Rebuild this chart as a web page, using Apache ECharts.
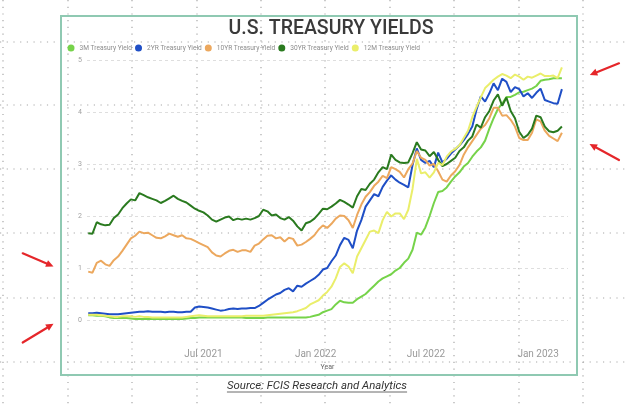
<!DOCTYPE html>
<html>
<head>
<meta charset="utf-8">
<title>U.S. Treasury Yields</title>
<script src="https://cdn.jsdelivr.net/npm/echarts@6/dist/echarts.min.js"></script>
<style>
  html, body { margin: 0; padding: 0; background: #ffffff; }
  #chart { width: 625px; height: 404px; }
</style>
</head>
<body>
<div id="chart"></div>
<script>
// Weekly yield observations (percent), first week 24 Dec 2020, one value per week
const firstWeek = '2020-12-24';

const seriesNames = ['3M Treasury Yield', '2YR Treasury Yield', '10YR Treasury Yield', '30YR Treasury Yield', '12M Treasury Yield'];

const yield3M = [
  0.09,0.09,0.08,0.08,0.07,0.05,0.04,0.04,0.04,0.04,
  0.03,0.02,0.02,0.02,0.02,0.02,0.02,0.02,0.02,0.02,
  0.02,0.02,0.02,0.03,0.04,0.04,0.05,0.05,0.05,0.05,
  0.05,0.05,0.05,0.05,0.05,0.05,0.05,0.04,0.04,0.04,
  0.04,0.04,0.05,0.05,0.05,0.05,0.05,0.05,0.05,0.05,
  0.05,0.05,0.06,0.08,0.10,0.15,0.18,0.21,0.30,0.37,
  0.34,0.33,0.33,0.40,0.45,0.50,0.58,0.66,0.74,0.80,
  0.84,0.88,0.95,1.00,1.10,1.18,1.35,1.68,1.64,1.78,
  2.00,2.25,2.46,2.48,2.55,2.66,2.76,2.84,2.95,3.02,
  3.14,3.24,3.32,3.45,3.68,3.88,4.06,4.16,4.29,4.29,
  4.33,4.38,4.39,4.42,4.45,4.50,4.60,4.62,4.63,4.65,
  4.65,4.65
];

const yield2Y = [
  0.13,0.13,0.14,0.13,0.12,0.11,0.11,0.11,0.12,0.13,
  0.14,0.15,0.16,0.16,0.17,0.16,0.16,0.16,0.15,0.16,
  0.16,0.15,0.15,0.16,0.16,0.24,0.26,0.25,0.24,0.22,
  0.20,0.18,0.19,0.21,0.22,0.21,0.22,0.22,0.23,0.23,
  0.27,0.33,0.39,0.44,0.49,0.52,0.58,0.61,0.55,0.66,
  0.64,0.70,0.75,0.80,0.87,0.97,1.00,1.13,1.24,1.44,
  1.58,1.54,1.38,1.72,1.92,2.18,2.30,2.42,2.38,2.56,
  2.68,2.78,2.70,2.64,2.60,2.55,2.98,3.30,3.08,3.02,
  3.06,2.94,3.22,3.03,3.10,3.20,3.28,3.36,3.46,3.58,
  3.72,4.05,4.30,4.20,4.36,4.55,4.42,4.64,4.58,4.38,
  4.48,4.44,4.30,4.36,4.27,4.37,4.45,4.23,4.20,4.17,
  4.16,4.44
];

const yield10Y = [
  0.93,0.91,1.10,1.14,1.07,1.04,1.15,1.22,1.33,1.45,
  1.57,1.62,1.70,1.67,1.68,1.63,1.58,1.57,1.61,1.66,
  1.63,1.60,1.63,1.57,1.56,1.52,1.48,1.44,1.40,1.30,
  1.24,1.22,1.28,1.33,1.35,1.31,1.34,1.34,1.31,1.43,
  1.47,1.55,1.62,1.63,1.57,1.59,1.51,1.58,1.56,1.43,
  1.45,1.50,1.56,1.63,1.74,1.82,1.77,1.85,1.95,2.01,
  2.00,1.92,1.77,2.02,2.22,2.37,2.46,2.58,2.66,2.77,
  2.73,2.94,2.90,2.85,2.74,2.90,3.01,3.25,3.12,3.08,
  2.97,3.00,2.86,2.70,2.66,2.78,2.86,2.98,3.18,3.32,
  3.44,3.56,3.68,3.75,3.88,4.08,4.08,3.93,3.94,3.85,
  3.72,3.50,3.46,3.46,3.60,3.86,3.82,3.64,3.54,3.49,
  3.44,3.60
];

const yield30Y = [
  1.67,1.66,1.88,1.84,1.82,1.83,1.96,2.03,2.15,2.24,
  2.32,2.30,2.44,2.40,2.36,2.33,2.30,2.25,2.29,2.34,
  2.39,2.33,2.29,2.26,2.20,2.14,2.10,2.07,2.01,1.93,
  1.89,1.93,1.97,1.99,1.92,1.95,1.93,1.95,1.93,1.96,
  2.00,2.12,2.09,2.01,2.03,1.96,1.93,1.98,1.91,1.80,
  1.72,1.86,1.89,1.95,2.04,2.14,2.13,2.18,2.24,2.31,
  2.27,2.22,2.16,2.38,2.52,2.50,2.62,2.70,2.84,2.94,
  2.90,3.18,3.08,3.03,3.02,3.03,3.21,3.42,3.28,3.26,
  3.15,3.23,3.08,2.96,3.00,3.06,3.12,3.25,3.32,3.45,
  3.53,3.76,3.70,3.90,4.02,4.22,4.34,4.12,4.28,4.02,
  3.88,3.62,3.50,3.56,3.68,3.93,3.90,3.72,3.63,3.61,
  3.64,3.72
];

const yield12M = [
  0.10,0.10,0.10,0.09,0.08,0.07,0.06,0.06,0.07,0.07,
  0.07,0.06,0.07,0.06,0.06,0.05,0.05,0.05,0.05,0.05,
  0.05,0.05,0.05,0.06,0.07,0.08,0.09,0.08,0.07,0.07,
  0.07,0.07,0.07,0.07,0.07,0.07,0.07,0.08,0.08,0.08,
  0.08,0.08,0.09,0.10,0.11,0.12,0.13,0.14,0.15,0.17,
  0.20,0.23,0.30,0.34,0.38,0.47,0.54,0.64,0.80,1.02,
  1.09,1.03,0.90,1.22,1.38,1.54,1.70,1.72,1.67,1.92,
  2.08,1.99,2.05,2.05,1.94,2.12,2.52,3.10,2.82,2.84,
  2.74,2.84,3.02,2.98,3.14,3.24,3.29,3.36,3.50,3.64,
  3.90,4.10,4.28,4.46,4.54,4.62,4.68,4.73,4.70,4.65,
  4.72,4.68,4.62,4.68,4.66,4.70,4.74,4.69,4.69,4.70,
  4.65,4.86
];

const seriesValues = [yield3M, yield2Y, yield10Y, yield30Y, yield12M];
const seriesColors = ['#76d34a', '#1f4fc6', '#eca85e', '#2a7a1f', '#eaee6a'];

// Axis ticks
const xTickDates = ['2021-07-01', '2022-01-01', '2022-07-01', '2023-01-01'];
const yTicks = [0, 1, 2, 3, 4, 5];
const monthNames = ['Jan','Feb','Mar','Apr','May','Jun','Jul','Aug','Sep','Oct','Nov','Dec'];

const DAY = 86400000;
const toTime = s => Date.parse(s + 'T00:00:00Z');
const t0 = toTime(firstWeek);
const weekDates = yield3M.map((_, i) => t0 + i * 7 * DAY);

const series = seriesNames.map((name, k) => ({
  name: name,
  type: 'line',
  data: seriesValues[k].map((v, i) => [weekDates[i], v]),
  showSymbol: false,
  symbol: 'circle',
  lineStyle: { width: 2, color: seriesColors[k] },
  itemStyle: { color: seriesColors[k] },
  emphasis: { disabled: true },
  z: 3 + k
}));

// Page furniture: dotted canvas guides, framed card, source line, red pointers
const guideX = [3, 68, 132, 197, 261, 325, 390, 454, 519, 583];
const guideY = [42, 105, 169, 233, 298, 362];
const graphics = [];
guideX.forEach(x => graphics.push({
  type: 'line', silent: true, z: -10,
  shape: { x1: x, y1: 0, x2: x, y2: 404 },
  style: { stroke: '#a8a8a8', lineWidth: 1.2, lineDash: [1.2, 5.5] }
}));
guideY.forEach(y => graphics.push({
  type: 'line', silent: true, z: -10,
  shape: { x1: 0, y1: y, x2: 625, y2: y },
  style: { stroke: '#a8a8a8', lineWidth: 1.2, lineDash: [1.2, 5.5] }
}));
graphics.push({
  type: 'rect', silent: true, z: -5,
  shape: { x: 61, y: 16, width: 516, height: 359 },
  style: { fill: 'none', stroke: '#8fc9b2', lineWidth: 2 }
});

const sourceText = 'Source: FCIS Research and Analytics';
const sourceFont = 'italic 11.4px Roboto';
const measure = document.createElement('canvas').getContext('2d');
measure.font = sourceFont;
const sourceWidth = measure.measureText(sourceText).width;
graphics.push({
  type: 'text', silent: true,
  style: { text: sourceText, x: 317, y: 386, align: 'center', verticalAlign: 'middle', font: sourceFont, fill: '#333333' }
});
graphics.push({
  type: 'line', silent: true,
  shape: { x1: 317 - sourceWidth / 2, y1: 392, x2: 317 + sourceWidth / 2, y2: 392 },
  style: { stroke: '#444444', lineWidth: 0.8 }
});

function pointer(x1, y1, x2, y2) {
  const a = Math.atan2(y2 - y1, x2 - x1);
  const len = 7.5, half = 3.6;
  const bx = x2 - len * Math.cos(a), by = y2 - len * Math.sin(a);
  const px = -Math.sin(a) * half, py = Math.cos(a) * half;
  graphics.push({
    type: 'line', silent: true,
    shape: { x1: x1, y1: y1, x2: bx, y2: by },
    style: { stroke: '#e5262a', lineWidth: 2.2, lineCap: 'round' }
  });
  graphics.push({
    type: 'polygon', silent: true,
    shape: { points: [[x2, y2], [bx + px, by + py], [bx - px, by - py]] },
    style: { fill: '#e5262a' }
  });
}
pointer(22.7, 253.3, 53.5, 266.5);
pointer(22.7, 342.5, 53.5, 323.8);
pointer(619, 63.3, 589.8, 75);
pointer(619, 160, 589.5, 144);

const chart = echarts.init(document.getElementById('chart'), null, { renderer: 'canvas' });
chart.setOption({
  animation: false,
  backgroundColor: '#ffffff',
  title: {
    text: 'U.S. TREASURY YIELDS',
    left: 326,
    top: 14,
    textAlign: 'center',
    textStyle: { fontFamily: 'Roboto', fontSize: 19.5, fontWeight: 500, color: '#3a3a3a' }
  },
  legend: {
    data: seriesNames,
    left: 67.5,
    top: 44.5,
    padding: 0,
    icon: 'circle',
    itemWidth: 7,
    itemHeight: 7,
    itemGap: 3,
    textStyle: { fontFamily: 'Roboto', fontSize: 6.6, color: '#8c8c8c' }
  },
  grid: { left: 87, right: 57, top: 60, bottom: 84, containLabel: false },
  xAxis: {
    // timestamps on a linear scale, labelled at the half-year marks
    type: 'value',
    min: toTime('2020-12-22'),
    max: toTime('2023-02-19'),
    name: 'Year',
    nameLocation: 'middle',
    nameGap: 43,
    nameTextStyle: { fontFamily: 'Roboto', fontSize: 7, color: '#666666' },
    axisLine: { show: false },
    axisTick: { show: false },
    splitLine: { show: false },
    axisLabel: {
      customValues: xTickDates.map(toTime),
      formatter: function (v) {
        const d = new Date(v);
        return monthNames[d.getUTCMonth()] + ' ' + d.getUTCFullYear();
      },
      fontFamily: 'Roboto',
      fontSize: 10,
      color: '#9a9a9a',
      margin: 29
    }
  },
  yAxis: {
    type: 'value',
    min: yTicks[0],
    max: yTicks[yTicks.length - 1],
    interval: 1,
    axisLine: { show: false },
    axisTick: { show: false },
    axisLabel: { fontFamily: 'Roboto', fontSize: 7, color: '#a0a0a0', margin: 5 },
    splitLine: { lineStyle: { color: '#dedede', type: [3, 3], width: 1 } }
  },
  graphic: graphics,
  series: series
});
</script>
</body>
</html>
